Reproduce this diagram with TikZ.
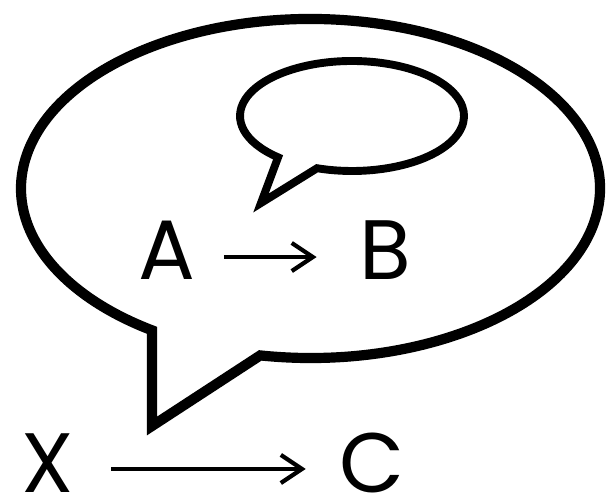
\documentclass[tikz,border=0pt]{standalone}
\usepackage{fontspec}
\setmainfont{Poppins}
\usetikzlibrary{arrows.meta}

\begin{document}
\begin{tikzpicture}[x=0.02cm, y=0.02cm,
    every node/.style={font=\fontsize{48}{58}\selectfont, inner sep=0pt},
    bigbubble/.style={line width=5.8pt},
    smallbubble/.style={line width=4.5pt},
    causal/.style={line width=2.4pt, -{Straight Barb[length=12pt, width=16pt, line width=2.4pt]}}]
  \useasboundingbox (0,0) rectangle (612,502);
  % outer speech bubble
  \draw[bigbubble] (310.5,313.5) ++(260:289.5 and 169.5)
    arc[start angle=260, end angle=596.8, x radius=289.5, y radius=169.5]
    -- (152,76) -- cycle;
  % inner speech bubble
  \draw[smallbubble] (352,386) ++(251.8:112 and 55)
    arc[start angle=251.8, end angle=588.7, x radius=112, y radius=55]
    -- (261,299) -- cycle;
  \node (a) at (167,252) {A};
  \node (b) at (385,252) {B};
  \node (x) at (48,39) {X};
  \node (c) at (372,39) {C};
  \draw[causal, shorten <=16pt, shorten >=24pt] ([yshift=-4pt]a.east) -- ([yshift=-4pt]b.west);
  \draw[causal, shorten <=21pt, shorten >=19pt] ([yshift=-3.4pt]x.east) -- ([yshift=-3.4pt]c.west);
\end{tikzpicture}
\end{document}
